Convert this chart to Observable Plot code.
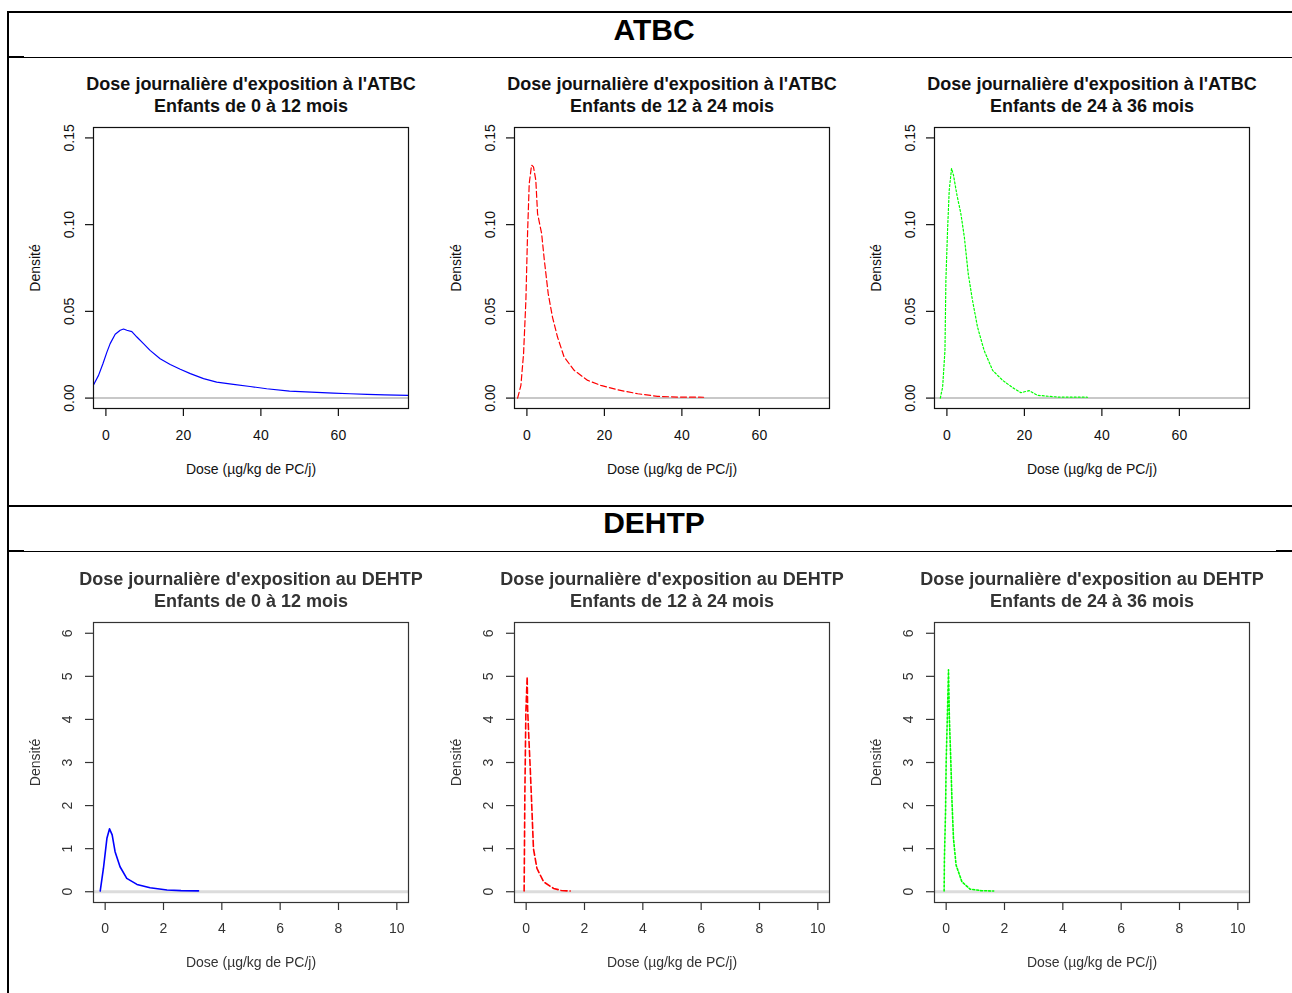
<!DOCTYPE html>
<html>
<head>
<meta charset="utf-8">
<script src="https://cdn.jsdelivr.net/npm/d3@7"></script>
<script src="https://cdn.jsdelivr.net/npm/@observablehq/plot@0.6"></script>
<style>
  html, body { margin: 0; padding: 0; background: #fff; }
  body { font-family: "Liberation Sans", Arial, sans-serif; }
  #page { position: relative; width: 1292px; height: 993px; overflow: hidden; background: #fff; }
  .ln { position: absolute; background: #000; }
  .header { position: absolute; left: 654px; transform: translateX(-50%); font-weight: bold; font-size: 30px; line-height: 30px; color: #000; white-space: nowrap; }
  .panel { position: absolute; width: 420px; height: 440px; }
  .panel svg { display: block; }
  .blurred { filter: blur(0.5px); }
</style>
</head>
<body>
<div id="page">
  <div class="ln" style="left:7px;top:11px;width:1285px;height:2px;"></div>
  <div class="ln" style="left:7px;top:11px;width:2px;height:982px;"></div>
  <div class="ln" style="left:8px;top:57px;width:1284px;height:1px;"></div>
  <div class="ln" style="left:8px;top:56px;width:16px;height:2px;"></div>
  <div class="ln" style="left:8px;top:505px;width:1284px;height:2px;"></div>
  <div class="ln" style="left:8px;top:551px;width:1284px;height:1px;"></div>
  <div class="ln" style="left:8px;top:550px;width:16px;height:2px;"></div>
  <div class="ln" style="left:1276px;top:550px;width:16px;height:2px;"></div>
  <div class="header" id="h1" style="top:15px;"></div>
  <div class="header" id="h2" style="top:508px;"></div>
  <div class="panel" id="p1" style="left:0px;top:60px;"></div>
  <div class="panel" id="p2" style="left:421px;top:60px;"></div>
  <div class="panel" id="p3" style="left:841px;top:60px;"></div>
  <div class="panel blurred" id="p4" style="left:0px;top:555px;"></div>
  <div class="panel blurred" id="p5" style="left:421px;top:555px;"></div>
  <div class="panel blurred" id="p6" style="left:841px;top:555px;"></div>
</div>
<script>
// ---- Section headers ----
const sectionNames = ["ATBC", "DEHTP"];

// ---- Panel titles ----
const titlesAtbc = "Dose journalière d'exposition à l'ATBC";
const titlesDehtp = "Dose journalière d'exposition au DEHTP";
const ageGroups = ["Enfants de 0 à 12 mois", "Enfants de 12 à 24 mois", "Enfants de 24 à 36 mois"];
const xLabel = "Dose (µg/kg de PC/j)";
const yLabel = "Densité";

// ---- Axis ticks ----
const atbcTicksX = [0, 20, 40, 60];
const atbcTicksY = [0, 0.05, 0.10, 0.15];
const atbcTickLabelsY = ["0.00", "0.05", "0.10", "0.15"];
const dehtpTicksX = [0, 2, 4, 6, 8, 10];
const dehtpTicksY = [0, 1, 2, 3, 4, 5, 6];
const dehtpTickLabelsY = ["0", "1", "2", "3", "4", "5", "6"];

// ---- ATBC density curves ----
const atbc012Dose = [-3.2, -1.9, -0.77, 0.26, 1.1, 2.4, 3.7, 4.55, 5.4, 6.7, 8.0, 9.7, 11.4, 14.0, 16.6, 19.2, 21.8, 25.2, 28.6, 32.9, 37.2, 41.5, 47.4, 53.0, 58.7, 63.0, 67.4, 72.0, 78.1];
const atbc012Dens = [0.0075, 0.0131, 0.0198, 0.0265, 0.0314, 0.0368, 0.0391, 0.0398, 0.0391, 0.0383, 0.0352, 0.0314, 0.0275, 0.0227, 0.0194, 0.0166, 0.0141, 0.0112, 0.0092, 0.0079, 0.0067, 0.0054, 0.0040, 0.0034, 0.0029, 0.0025, 0.0021, 0.0019, 0.0016];

const atbc1224Dose = [-2.4, -1.55, -0.86, -0.26, 0.17, 0.6, 1.2, 1.7, 2.3, 2.75, 3.8, 4.5, 5.5, 6.6, 7.9, 9.6, 12.2, 15.7, 19.1, 23.4, 28.6, 33.7, 39.0, 45.6];
const atbc1224Dens = [0.0, 0.0073, 0.0256, 0.0564, 0.0949, 0.1237, 0.1343, 0.1333, 0.1256, 0.1064, 0.0949, 0.0795, 0.0602, 0.0467, 0.0352, 0.0237, 0.0160, 0.0102, 0.0073, 0.0048, 0.0025, 0.0010, 0.0006, 0.0005];

const atbc2436Dose = [-1.7, -1.1, -0.5, -0.26, 0.17, 0.6, 1.2, 1.7, 2.6, 3.6, 4.5, 5.5, 6.6, 7.9, 9.6, 11.8, 14.4, 17.0, 19.1, 21.2, 23.4, 28.6, 36.3];
const atbc2436Dens = [0.0, 0.0064, 0.0275, 0.068, 0.0968, 0.1198, 0.1324, 0.1285, 0.117, 0.1064, 0.0929, 0.0718, 0.0564, 0.041, 0.0275, 0.016, 0.0102, 0.006, 0.0031, 0.0043, 0.0016, 0.0006, 0.0005];

// ---- DEHTP density curves ----
const dehtp012Dose = [-0.17, -0.06, 0.06, 0.15, 0.24, 0.34, 0.51, 0.74, 1.09, 1.54, 2.12, 2.6, 3.2];
const dehtp012Dens = [0.016, 0.54, 1.24, 1.46, 1.32, 0.93, 0.58, 0.31, 0.17, 0.093, 0.04, 0.025, 0.02];

const dehtp1224Dose = [-0.07, -0.045, -0.01, 0.035, 0.05, 0.09, 0.14, 0.2, 0.25, 0.37, 0.6, 0.94, 1.2, 1.51];
const dehtp1224Dens = [0.016, 2.25, 4.18, 4.99, 4.26, 3.6, 2.86, 1.86, 1.0, 0.54, 0.23, 0.077, 0.03, 0.016];

const dehtp2436Dose = [-0.07, -0.06, -0.02, 0.0, 0.045, 0.08, 0.11, 0.16, 0.2, 0.25, 0.34, 0.54, 0.82, 1.2, 1.63];
const dehtp2436Dens = [0.016, 0.77, 1.9, 3.02, 4.18, 5.15, 4.03, 3.02, 2.09, 1.24, 0.62, 0.23, 0.06, 0.025, 0.016];

const seriesColors = ["#0000ff", "#ff0000", "#00ff00"];
const seriesDash = [null, "6,3", "2,2"];

const FONT = '"Liberation Sans", Arial, sans-serif';

function panel(o) {
  const data = o.dose.map((d, i) => ({dose: d, dens: o.dens[i]}));
  const txt = {lineAnchor: "middle", textAnchor: "middle", fill: o.textColor};
  return Plot.plot({
    width: 420,
    height: 440,
    marginLeft: 93,
    marginRight: 12,
    marginTop: 67,
    marginBottom: o.marginBottom,
    x: {domain: o.xDomain},
    y: {domain: o.yDomain},
    style: {fontFamily: FONT, background: "transparent", color: o.textColor, overflow: "visible"},
    marks: [
      Plot.ruleY([0], {stroke: o.zeroColor, strokeWidth: o.zeroWidth}),
      Plot.line(data, {x: "dose", y: "dens", stroke: o.color, strokeWidth: o.lineWidth, strokeDasharray: o.dash, clip: true}),
      Plot.frame({stroke: o.textColor, strokeWidth: 1.2}),
      Plot.axisX({ticks: o.ticksX, tickSize: 8, tickFormat: () => "", label: null, strokeWidth: 1.2}),
      Plot.axisY({ticks: o.ticksY, tickSize: 8, tickFormat: () => "", label: null, strokeWidth: 1.2}),
      Plot.text(o.ticksX, {...txt, x: d => d, frameAnchor: "bottom", dy: o.xTickDy, text: d => String(d), fontSize: 14}),
      Plot.text(o.ticksY, {...txt, y: d => d, frameAnchor: "left", dx: o.yTickDx, rotate: -90, text: (d, i) => o.labelsY[i], fontSize: 14}),
      Plot.text([yLabel], {...txt, frameAnchor: "left", dx: -58, rotate: -90, text: d => d, fontSize: 14}),
      Plot.text([xLabel], {...txt, frameAnchor: "bottom", dy: o.xLabDy, text: d => d, fontSize: 14}),
      Plot.text([o.title1], {...txt, frameAnchor: "top", dy: -43, text: d => d, fontSize: 18, fontWeight: "bold"}),
      Plot.text([o.title2], {...txt, frameAnchor: "top", dy: -21, text: d => d, fontSize: 18, fontWeight: "bold"})
    ]
  });
}

document.getElementById("h1").textContent = sectionNames[0];
document.getElementById("h2").textContent = sectionNames[1];

const atbcSeries = [[atbc012Dose, atbc012Dens], [atbc1224Dose, atbc1224Dens], [atbc2436Dose, atbc2436Dens]];
const dehtpSeries = [[dehtp012Dose, dehtp012Dens], [dehtp1224Dose, dehtp1224Dens], [dehtp2436Dose, dehtp2436Dens]];

atbcSeries.forEach(([dose, dens], i) => {
  document.getElementById("p" + (i + 1)).append(panel({
    dose, dens,
    color: seriesColors[i], dash: seriesDash[i], lineWidth: 1.2,
    xDomain: [-3.2, 78.1], yDomain: [-0.006, 0.156],
    ticksX: atbcTicksX, ticksY: atbcTicksY, labelsY: atbcTickLabelsY,
    title1: titlesAtbc, title2: ageGroups[i],
    marginBottom: 92, xTickDy: 27, xLabDy: 61, yTickDx: -24,
    textColor: "#111", zeroColor: "#c8c8c8", zeroWidth: 2
  }));
});

dehtpSeries.forEach(([dose, dens], i) => {
  document.getElementById("p" + (i + 4)).append(panel({
    dose, dens,
    color: seriesColors[i], dash: seriesDash[i], lineWidth: 1.6,
    xDomain: [-0.4, 10.4], yDomain: [-0.25, 6.25],
    ticksX: dehtpTicksX, ticksY: dehtpTicksY, labelsY: dehtpTickLabelsY,
    title1: titlesDehtp, title2: ageGroups[i],
    marginBottom: 93, xTickDy: 26, xLabDy: 60, yTickDx: -26,
    textColor: "#333", zeroColor: "#dcdcdc", zeroWidth: 3
  }));
});
</script>
</body>
</html>
